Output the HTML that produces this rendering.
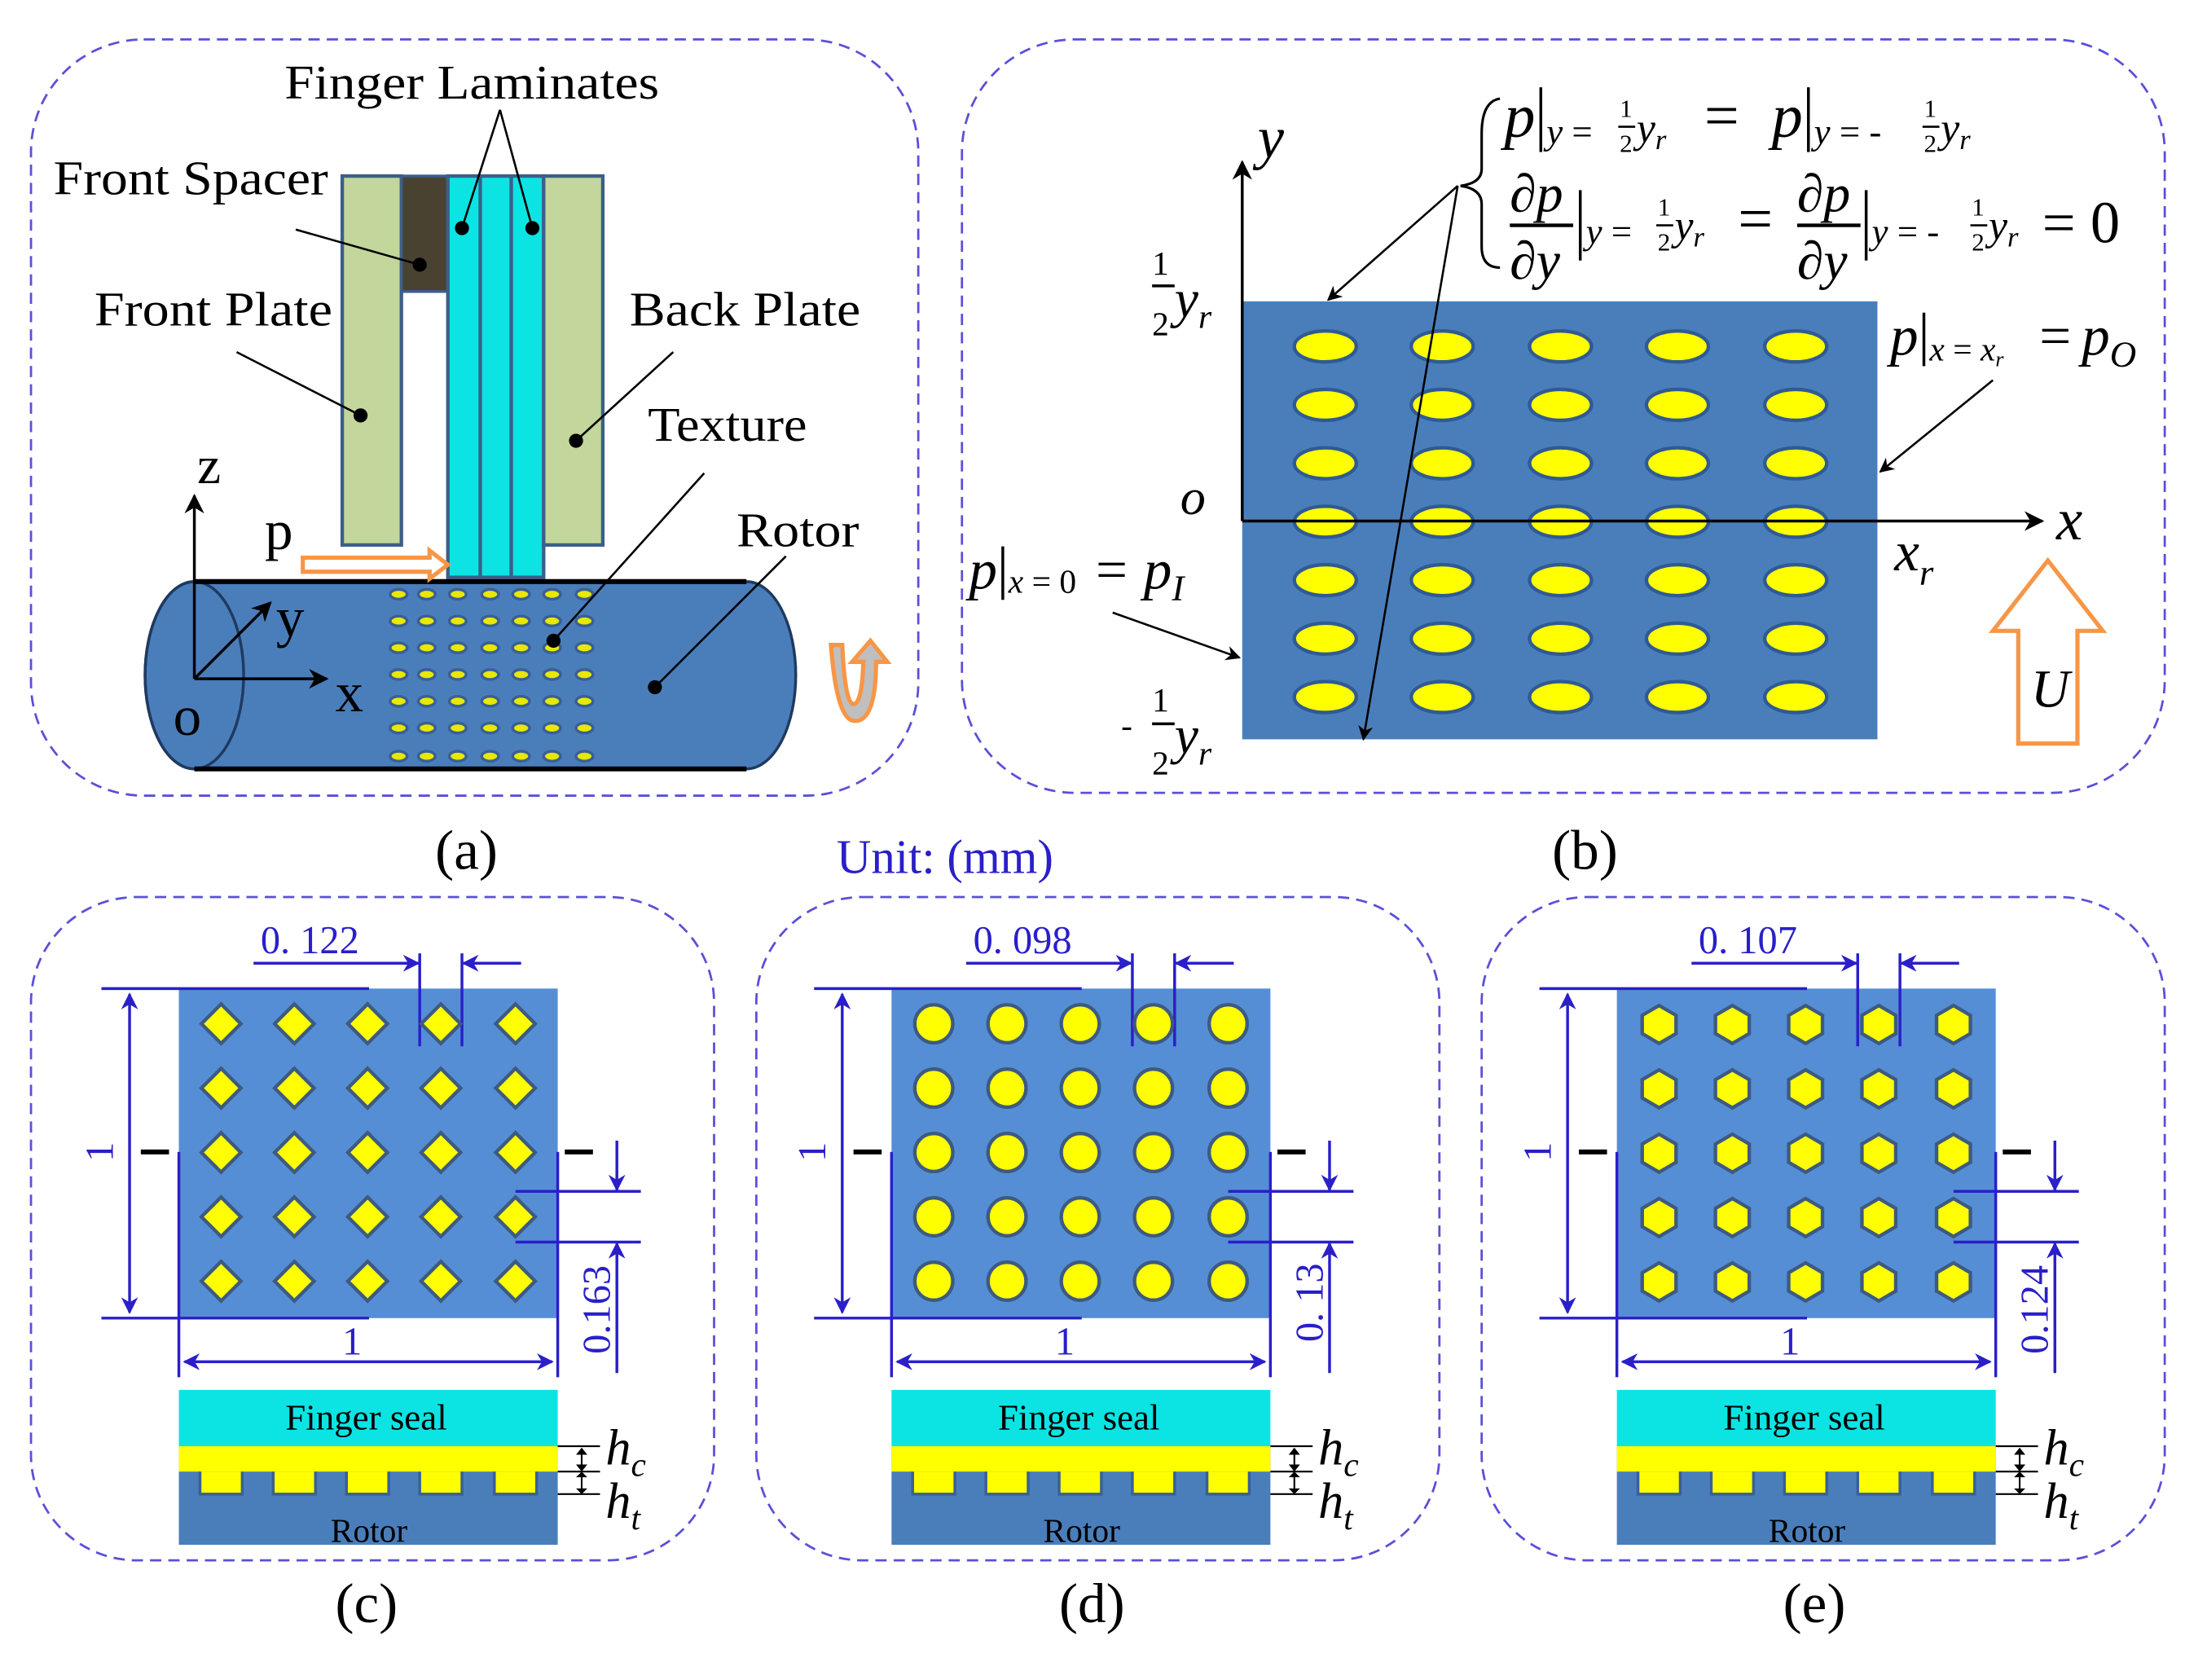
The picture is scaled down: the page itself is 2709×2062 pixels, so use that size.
<!DOCTYPE html>
<html><head><meta charset="utf-8"><style>
html,body{margin:0;padding:0;background:#fff}
svg{display:block}
text{font-family:"Liberation Serif",serif}
</style></head><body>
<svg width="2709" height="2062" viewBox="0 0 1567 1193" preserveAspectRatio="none" xmlns="http://www.w3.org/2000/svg">
<defs>
<marker id="ab" viewBox="0 0 10 10" refX="9" refY="5" markerWidth="7" markerHeight="7" orient="auto-start-reverse"><path d="M0,0 L10,5 L0,10 L3,5 z" fill="#000"/></marker>
<marker id="au" viewBox="0 0 10 10" refX="9" refY="5" markerWidth="6" markerHeight="6" orient="auto-start-reverse"><path d="M0,0 L10,5 L0,10 L3,5 z" fill="#2a1fc8"/></marker>
</defs>
<g fill="none" stroke="#5a50d8" stroke-width="1.6" stroke-dasharray="8,5">
<rect x="22" y="28" width="630" height="537" rx="80"/>
<rect x="683" y="28" width="854" height="535" rx="80"/>
<rect x="22" y="637" width="485" height="471" rx="75"/>
<rect x="537" y="637" width="485" height="471" rx="75"/>
<rect x="1052" y="637" width="485" height="471" rx="75"/>
</g>
<!-- Panel a -->
<rect x="243" y="125" width="42" height="262" fill="#c3d69b" stroke="#3b5f8a" stroke-width="2.5"/>
<rect x="285" y="125" width="33" height="82" fill="#4a4230" stroke="#3b5f8a" stroke-width="2"/>
<rect x="318" y="125" width="68" height="285" fill="#0ce4e4" stroke="#3b5f8a" stroke-width="2.5"/>
<line x1="341" y1="125" x2="341" y2="410" stroke="#3b5f8a" stroke-width="2.5"/>
<line x1="363" y1="125" x2="363" y2="410" stroke="#3b5f8a" stroke-width="2.5"/>
<rect x="386" y="125" width="42" height="262" fill="#c3d69b" stroke="#3b5f8a" stroke-width="2.5"/>
<path d="M138,413 L530,413 A35,66.5 0 0 1 530,546 L138,546 A35,66.5 0 0 1 138,413 z" fill="#4a7ebb" stroke="#1f3a60" stroke-width="2"/>
<ellipse cx="138" cy="479.5" rx="35" ry="66.5" fill="none" stroke="#1f3a60" stroke-width="2"/>
<line x1="138" y1="413" x2="530" y2="413" stroke="#000" stroke-width="3.5"/>
<line x1="138" y1="546" x2="530" y2="546" stroke="#000" stroke-width="3.5"/>
<g fill="#e8e800" stroke="#3a5f95" stroke-width="2">
<g id="drow">
<ellipse cx="283" cy="422" rx="6" ry="3.5"/><ellipse cx="303" cy="422" rx="6" ry="3.5"/><ellipse cx="325" cy="422" rx="6" ry="3.5"/><ellipse cx="348" cy="422" rx="6" ry="3.5"/><ellipse cx="370" cy="422" rx="6" ry="3.5"/><ellipse cx="392" cy="422" rx="6" ry="3.5"/><ellipse cx="415" cy="422" rx="6" ry="3.5"/>
</g>
<use href="#drow" y="19"/><use href="#drow" y="38"/><use href="#drow" y="57"/><use href="#drow" y="76"/><use href="#drow" y="95"/><use href="#drow" y="115"/>
</g>
<g stroke="#000" stroke-width="1.5">
<line x1="355" y1="78" x2="328" y2="162"/><line x1="355" y1="78" x2="378" y2="162"/>
<line x1="210" y1="163" x2="298" y2="188"/>
<line x1="168" y1="250" x2="256" y2="295"/>
<line x1="478" y1="250" x2="409" y2="313"/>
<line x1="500" y1="336" x2="393" y2="455"/>
<line x1="558" y1="395" x2="465" y2="488"/>
</g>
<g fill="#000"><circle cx="328" cy="162" r="5"/><circle cx="378" cy="162" r="5"/><circle cx="298" cy="188" r="5"/><circle cx="256" cy="295" r="5"/><circle cx="409" cy="313" r="5"/><circle cx="393" cy="455" r="5"/><circle cx="465" cy="488" r="5"/></g>
<g stroke="#000" stroke-width="2" fill="none">
<line x1="138" y1="482" x2="138" y2="352" marker-end="url(#ab)"/>
<line x1="138" y1="482" x2="232" y2="482" marker-end="url(#ab)"/>
<line x1="138" y1="482" x2="192" y2="428" marker-end="url(#ab)"/>
</g>
<path d="M215,396 L305,396 L305,391 L318,401 L305,411 L305,406 L215,406 z" fill="#fff" stroke="#f79646" stroke-width="3"/>
<path d="M590,458 Q594,512 607,512 Q622,512 622,470 L630,470 L618,455 L605,470 L613,470 Q612,500 606,500 Q600,500 598,458 z" fill="#bfbfbf" stroke="#f79646" stroke-width="3"/>
<g font-size="34" fill="#000">
<text x="202" y="70" textLength="266" lengthAdjust="spacingAndGlyphs">Finger Laminates</text>
<text x="38" y="138" textLength="195" lengthAdjust="spacingAndGlyphs">Front Spacer</text>
<text x="67" y="231" textLength="169" lengthAdjust="spacingAndGlyphs">Front Plate</text>
<text x="447" y="231" textLength="164" lengthAdjust="spacingAndGlyphs">Back Plate</text>
<text x="460" y="313" textLength="113" lengthAdjust="spacingAndGlyphs">Texture</text>
<text x="523" y="388" textLength="87" lengthAdjust="spacingAndGlyphs">Rotor</text>
<text x="140" y="343" font-size="38">z</text>
<text x="188" y="390" font-size="40">p</text>
<text x="196" y="452" font-size="40">y</text>
<text x="238" y="505" font-size="40">x</text>
<text x="123" y="522" font-size="40">o</text>
</g>
<!-- Panel b -->
<rect x="882" y="214" width="451" height="311" fill="#4a7ebb"/>
<g fill="#ffff00" stroke="#2f5a94" stroke-width="2.5">
<g id="erow"><ellipse cx="941" cy="246" rx="22" ry="11"/><ellipse cx="1024" cy="246" rx="22" ry="11"/><ellipse cx="1108" cy="246" rx="22" ry="11"/><ellipse cx="1191" cy="246" rx="22" ry="11"/><ellipse cx="1275" cy="246" rx="22" ry="11"/></g>
<use href="#erow" y="41.5"/><use href="#erow" y="83"/><use href="#erow" y="124.5"/><use href="#erow" y="166"/><use href="#erow" y="207.5"/><use href="#erow" y="249"/>
</g>
<g stroke="#000" stroke-width="2" fill="none">
<line x1="882" y1="370" x2="882" y2="115" marker-end="url(#ab)"/>
<line x1="882" y1="370" x2="1450" y2="370" marker-end="url(#ab)"/>
<line x1="1035" y1="132" x2="943" y2="213" stroke-width="1.5" marker-end="url(#ab)"/>
<line x1="1035" y1="132" x2="968" y2="525" stroke-width="1.5" marker-end="url(#ab)"/>
<line x1="1415" y1="270" x2="1335" y2="335" stroke-width="1.5" marker-end="url(#ab)"/>
<line x1="790" y1="435" x2="880" y2="467" stroke-width="1.5" marker-end="url(#ab)"/>
<path d="M1065,70 Q1052,72 1052,95 L1052,120 Q1052,130 1037,132 Q1052,134 1052,145 L1052,175 Q1052,190 1065,190" stroke-width="1.8"/>
</g>
<path d="M1454,398 L1493,448 L1475,448 L1475,528 L1433,528 L1433,448 L1415,448 z" fill="#fff" stroke="#f79646" stroke-width="3"/>
<g font-style="italic" fill="#000">
<text x="1442" y="502" font-size="38">U</text>
<text x="893" y="112" font-size="42">y</text>
<text x="1460" y="383" font-size="42">x</text>
<text x="838" y="365" font-size="36">o</text>
<text x="1345" y="405" font-size="40">x<tspan font-size="26" dy="10">r</tspan></text>
<text x="818" y="195" font-size="24" font-style="normal">1</text>
<line x1="818" y1="203" x2="834" y2="203" stroke="#000" stroke-width="2"/>
<text x="818" y="238" font-size="24" font-style="normal">2</text>
<text x="834" y="225" font-size="38">y<tspan font-size="24" dy="8">r</tspan></text>
<text x="796" y="523" font-size="24" font-style="normal">-</text>
<text x="818" y="505" font-size="24" font-style="normal">1</text>
<line x1="818" y1="514" x2="834" y2="514" stroke="#000" stroke-width="2"/>
<text x="818" y="550" font-size="24" font-style="normal">2</text>
<text x="834" y="535" font-size="38">y<tspan font-size="24" dy="8">r</tspan></text>
<!-- formula 1 -->
<text x="1068" y="97" font-size="44">p</text>
<line x1="1094" y1="62" x2="1094" y2="108" stroke="#000" stroke-width="2"/>
<text x="1098" y="102" font-size="26">y<tspan font-style="normal"> =</tspan></text>
<text x="1150" y="83" font-size="18" font-style="normal">1</text><line x1="1149" y1="90" x2="1161" y2="90" stroke="#000" stroke-width="1.5"/><text x="1150" y="108" font-size="18" font-style="normal">2</text>
<text x="1162" y="101" font-size="30">y<tspan font-size="20" dy="5">r</tspan></text>
<text x="1210" y="97" font-size="44" font-style="normal">=</text>
<text x="1258" y="97" font-size="44">p</text>
<line x1="1284" y1="62" x2="1284" y2="108" stroke="#000" stroke-width="2"/>
<text x="1288" y="102" font-size="26">y<tspan font-style="normal"> = -</tspan></text>
<text x="1366" y="83" font-size="18" font-style="normal">1</text><line x1="1365" y1="90" x2="1377" y2="90" stroke="#000" stroke-width="1.5"/><text x="1366" y="108" font-size="18" font-style="normal">2</text>
<text x="1378" y="101" font-size="30">y<tspan font-size="20" dy="5">r</tspan></text>
<!-- formula 2 -->
<text x="1072" y="150" font-size="38">∂p</text><line x1="1072" y1="160" x2="1117" y2="160" stroke="#000" stroke-width="2.5"/><text x="1072" y="198" font-size="38">∂y</text>
<line x1="1122" y1="135" x2="1122" y2="185" stroke="#000" stroke-width="2"/>
<text x="1126" y="173" font-size="26">y<tspan font-style="normal"> =</tspan></text>
<text x="1177" y="153" font-size="18" font-style="normal">1</text><line x1="1176" y1="160" x2="1188" y2="160" stroke="#000" stroke-width="1.5"/><text x="1177" y="178" font-size="18" font-style="normal">2</text>
<text x="1189" y="170" font-size="30">y<tspan font-size="20" dy="5">r</tspan></text>
<text x="1234" y="170" font-size="44" font-style="normal">=</text>
<text x="1276" y="150" font-size="38">∂p</text><line x1="1276" y1="160" x2="1321" y2="160" stroke="#000" stroke-width="2.5"/><text x="1276" y="198" font-size="38">∂y</text>
<line x1="1325" y1="135" x2="1325" y2="185" stroke="#000" stroke-width="2"/>
<text x="1329" y="173" font-size="26">y<tspan font-style="normal"> = -</tspan></text>
<text x="1400" y="153" font-size="18" font-style="normal">1</text><line x1="1399" y1="160" x2="1411" y2="160" stroke="#000" stroke-width="1.5"/><text x="1400" y="178" font-size="18" font-style="normal">2</text>
<text x="1412" y="170" font-size="30">y<tspan font-size="20" dy="5">r</tspan></text>
<text x="1450" y="172" font-size="42" font-style="normal">= 0</text>
<!-- pO -->
<text x="1342" y="252" font-size="40">p</text>
<line x1="1366" y1="222" x2="1366" y2="260" stroke="#000" stroke-width="2"/>
<text x="1370" y="256" font-size="24">x<tspan font-style="normal"> = </tspan>x<tspan font-size="15" dy="4">r</tspan></text>
<text x="1448" y="252" font-size="40" font-style="normal">=</text>
<text x="1478" y="252" font-size="40">p<tspan font-size="26" dy="8">O</tspan></text>
<!-- pI -->
<text x="688" y="418" font-size="40">p</text>
<line x1="712" y1="388" x2="712" y2="426" stroke="#000" stroke-width="2"/>
<text x="716" y="421" font-size="24">x<tspan font-style="normal"> = 0</tspan></text>
<text x="778" y="418" font-size="40" font-style="normal">=</text>
<text x="812" y="418" font-size="40">p<tspan font-size="26" dy="8">I</tspan></text>
</g>
<!-- labels -->
<g font-size="40" fill="#000">
<text x="309" y="617">(a)</text>
<text x="1102" y="617">(b)</text>
<text x="238" y="1152">(c)</text>
<text x="752" y="1152">(d)</text>
<text x="1266" y="1152">(e)</text>
</g>
<text x="594" y="620" font-size="34" fill="#2a1fc8">Unit: (mm)</text>

<g id="pc">
<rect x="127" y="702" width="269" height="234" fill="#558ed5"/>
<g stroke="#2a1fc8" stroke-width="2" fill="none">
<line x1="72" y1="702" x2="262" y2="702"/><line x1="72" y1="936" x2="262" y2="936"/>
<line x1="92" y1="706" x2="92" y2="932" marker-start="url(#au)" marker-end="url(#au)"/>
<line x1="180" y1="684" x2="297" y2="684" marker-end="url(#au)"/>
<line x1="370" y1="684" x2="329" y2="684" marker-end="url(#au)"/>
<line x1="298" y1="677" x2="298" y2="743"/><line x1="328" y1="677" x2="328" y2="743"/>
<line x1="127" y1="818" x2="127" y2="978"/><line x1="396" y1="818" x2="396" y2="978"/>
<line x1="131" y1="967" x2="392" y2="967" marker-start="url(#au)" marker-end="url(#au)"/>
<line x1="366" y1="846" x2="455" y2="846"/><line x1="366" y1="882" x2="455" y2="882"/>
<line x1="438" y1="810" x2="438" y2="845" marker-end="url(#au)"/>
<line x1="438" y1="975" x2="438" y2="883" marker-end="url(#au)"/>
</g>
<line x1="100" y1="818" x2="120" y2="818" stroke="#000" stroke-width="3.5"/>
<line x1="401" y1="818" x2="421" y2="818" stroke="#000" stroke-width="3.5"/>
<rect x="127" y="987" width="269" height="40" fill="#0ce4e4"/>
<rect x="127" y="1027" width="269" height="70" fill="#4a7ebb"/>
<rect x="127" y="1027" width="269" height="18" fill="#ffff00"/>
<g fill="#ffff00" stroke="#3a5f95" stroke-width="2">
<path d="M142,1045 V1061 H172 V1045 M194,1045 V1061 H224 V1045 M246,1045 V1061 H276 V1045 M298,1045 V1061 H328 V1045 M351,1045 V1061 H381 V1045"/>
</g>
<g stroke="#000" stroke-width="1.2">
<line x1="396" y1="1027" x2="426" y2="1027"/><line x1="396" y1="1045" x2="426" y2="1045"/><line x1="396" y1="1061" x2="426" y2="1061"/>
<line x1="413" y1="1029" x2="413" y2="1059"/>
</g>
<path d="M409,1033 L413,1028 L417,1033 z M409,1040 L413,1045 L417,1040 z M409,1049 L413,1045 L417,1049 z M409,1057 L413,1061 L417,1057 z" fill="#000"/>
</g>
<use href="#pc" x="506"/>
<use href="#pc" x="1021"/>

<g fill="#ffff00" stroke="#3d5a80" stroke-width="2.5">
<g id="dmr"><path d="M157,713 l14,14 l-14,14 l-14,-14z"/><path d="M209,713 l14,14 l-14,14 l-14,-14z"/><path d="M261,713 l14,14 l-14,14 l-14,-14z"/><path d="M313,713 l14,14 l-14,14 l-14,-14z"/><path d="M366,713 l14,14 l-14,14 l-14,-14z"/></g>
<use href="#dmr" y="45.7"/><use href="#dmr" y="91.4"/><use href="#dmr" y="137.1"/><use href="#dmr" y="182.8"/>
</g>
<g fill="#ffff00" stroke="#3d5a80" stroke-width="2.5">
<g id="cir"><circle cx="663" cy="727" r="13.5"/><circle cx="715" cy="727" r="13.5"/><circle cx="767" cy="727" r="13.5"/><circle cx="819" cy="727" r="13.5"/><circle cx="872" cy="727" r="13.5"/></g>
<use href="#cir" y="45.7"/><use href="#cir" y="91.4"/><use href="#cir" y="137.1"/><use href="#cir" y="182.8"/>
</g>
<g fill="#ffff00" stroke="#3d5a80" stroke-width="2.5">
<g id="hx"><path d="M1178,714 l12,7 v13 l-12,7 l-12,-7 v-13z"/><path d="M1230,714 l12,7 v13 l-12,7 l-12,-7 v-13z"/><path d="M1282,714 l12,7 v13 l-12,7 l-12,-7 v-13z"/><path d="M1334,714 l12,7 v13 l-12,7 l-12,-7 v-13z"/><path d="M1387,714 l12,7 v13 l-12,7 l-12,-7 v-13z"/></g>
<use href="#hx" y="45.7"/><use href="#hx" y="91.4"/><use href="#hx" y="137.1"/><use href="#hx" y="182.8"/>
</g>

<g fill="#2a1fc8" font-size="28">
<text x="185" y="677">0. 122</text>
<text x="691" y="677">0. 098</text>
<text x="1206" y="677">0. 107</text>
<text x="243" y="962">1</text><text x="749" y="962">1</text><text x="1264" y="962">1</text>
<text transform="translate(80,818) rotate(-90)" text-anchor="middle">1</text>
<text transform="translate(586,818) rotate(-90)" text-anchor="middle">1</text>
<text transform="translate(1101,818) rotate(-90)" text-anchor="middle">1</text>
<text transform="translate(433,930) rotate(-90)" text-anchor="middle">0.163</text>
<text transform="translate(939,925) rotate(-90)" text-anchor="middle">0. 13</text>
<text transform="translate(1454,930) rotate(-90)" text-anchor="middle">0.124</text>
</g>
<g fill="#000">
<g font-size="26">
<text x="260" y="1015" text-anchor="middle">Finger seal</text>
<text x="766" y="1015" text-anchor="middle">Finger seal</text>
<text x="1281" y="1015" text-anchor="middle">Finger seal</text>
</g>
<g font-size="24">
<text x="262" y="1095" text-anchor="middle">Rotor</text>
<text x="768" y="1095" text-anchor="middle">Rotor</text>
<text x="1283" y="1095" text-anchor="middle">Rotor</text>
</g>
<g font-size="36" font-style="italic">
<text x="430" y="1040">h<tspan font-size="24" dy="8">c</tspan></text>
<text x="430" y="1078">h<tspan font-size="24" dy="8">t</tspan></text>
<text x="936" y="1040">h<tspan font-size="24" dy="8">c</tspan></text>
<text x="936" y="1078">h<tspan font-size="24" dy="8">t</tspan></text>
<text x="1451" y="1040">h<tspan font-size="24" dy="8">c</tspan></text>
<text x="1451" y="1078">h<tspan font-size="24" dy="8">t</tspan></text>
</g>
</g>
</svg>
</body></html>
